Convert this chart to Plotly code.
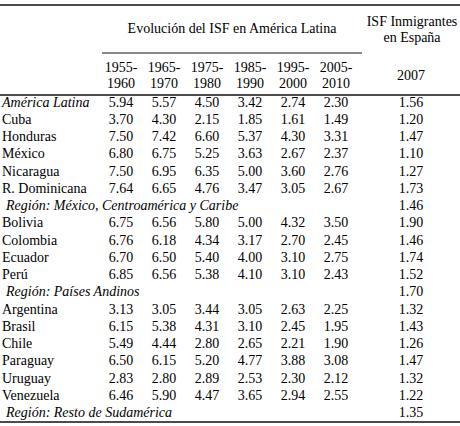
import plotly.graph_objects as go

# ---- data ----
row_labels = ["América Latina", "Cuba", "Honduras", "México", "Nicaragua", "R. Dominicana",
              "Región: México, Centroamérica y Caribe",
              "Bolivia", "Colombia", "Ecuador", "Perú",
              "Región: Países Andinos",
              "Argentina", "Brasil", "Chile", "Paraguay", "Uruguay", "Venezuela",
              "Región: Resto de Sudamérica"]
italic_rows = ["América Latina", "Región: México, Centroamérica y Caribe",
               "Región: Países Andinos", "Región: Resto de Sudamérica"]
period_start = ["1955-", "1965-", "1975-", "1985-", "1995-", "2005-"]
period_end = ["1960", "1970", "1980", "1990", "2000", "2010"]
spain_label = "2007"
group_title = "Evolución del ISF en América Latina"
spain_title = ["ISF Inmigrantes", "en España"]

isf_1955 = [5.94, 3.70, 7.50, 6.80, 7.50, 7.64, None, 6.75, 6.76, 6.70, 6.85, None, 3.13, 6.15, 5.49, 6.50, 2.83, 6.46, None]
isf_1965 = [5.57, 4.30, 7.42, 6.75, 6.95, 6.65, None, 6.56, 6.18, 6.50, 6.56, None, 3.05, 5.38, 4.44, 6.15, 2.80, 5.90, None]
isf_1975 = [4.50, 2.15, 6.60, 5.25, 6.35, 4.76, None, 5.80, 4.34, 5.40, 5.38, None, 3.44, 4.31, 2.80, 5.20, 2.89, 4.47, None]
isf_1985 = [3.42, 1.85, 5.37, 3.63, 5.00, 3.47, None, 5.00, 3.17, 4.00, 4.10, None, 3.05, 3.10, 2.65, 4.77, 2.53, 3.65, None]
isf_1995 = [2.74, 1.61, 4.30, 2.67, 3.60, 3.05, None, 4.32, 2.70, 3.10, 3.10, None, 2.63, 2.45, 2.21, 3.88, 2.30, 2.94, None]
isf_2005 = [2.30, 1.49, 3.31, 2.37, 2.76, 2.67, None, 3.50, 2.45, 2.75, 2.43, None, 2.25, 1.95, 1.90, 3.08, 2.12, 2.55, None]
isf_spain_2007 = [1.56, 1.20, 1.47, 1.10, 1.27, 1.73, 1.46, 1.90, 1.46, 1.74, 1.52, 1.70,
                  1.32, 1.43, 1.26, 1.47, 1.32, 1.22, 1.35]

latam_series = [isf_1955, isf_1965, isf_1975, isf_1985, isf_1995, isf_2005]

# ---- layout constants (pixel space) ----
W, H = 460, 426
FONT = "Liberation Serif"
FS = 14
COL = "#000000"
col_x = [121, 164, 207, 250, 293, 336]
spain_x = 411
row_y0, row_pitch = 103, 17.25
row_y = [row_y0 + i * row_pitch for i in range(len(row_labels))]

fig = go.Figure()

def text_trace(xs, ys, texts, pos="middle center"):
    fig.add_trace(go.Scatter(x=xs, y=ys, text=texts, mode="text", textposition=pos,
                             textfont=dict(family=FONT, size=FS, color=COL),
                             hoverinfo="skip", showlegend=False, cliponaxis=False))

# row labels
lab_x = [6 if l.startswith("Región") else 2 for l in row_labels]
lab_t = [f"<i>{l}</i>" if l in italic_rows else l for l in row_labels]
text_trace(lab_x, row_y, lab_t, "middle right")

# latin american series
for cx, series in zip(col_x, latam_series):
    ys = [y for y, v in zip(row_y, series) if v is not None]
    ts = [f"{v:.2f}" for v in series if v is not None]
    text_trace([cx] * len(ys), ys, ts)

# spain column
text_trace([spain_x] * len(row_y), row_y, [f"{v:.2f}" for v in isf_spain_2007])

# headers
text_trace([(102 + 362) / 2], [29], [group_title])
text_trace([412, 412], [22, 38.5], spain_title)
text_trace(col_x, [68] * len(col_x), period_start)
text_trace(col_x, [84] * len(col_x), period_end)
text_trace([spain_x], [76], [spain_label])

# rules
def hline(x0, x1, y, w):
    fig.add_shape(type="line", x0=x0, x1=x1, y0=y, y1=y, xref="x", yref="y",
                  line=dict(color="#111111", width=w))

hline(0, W, 5, 1.5)
hline(102, 362, 53, 1)
hline(0, W, 95, 1.5)
hline(0, W, 422, 1.5)

fig.update_xaxes(range=[0, W], visible=False, fixedrange=True)
fig.update_yaxes(range=[H, 0], visible=False, fixedrange=True)
fig.update_layout(width=W, height=H, margin=dict(l=0, r=0, t=0, b=0),
                  paper_bgcolor="white", plot_bgcolor="white")

fig.write_html("out.html", config={"displayModeBar": False},
               post_script="document.body.style.margin='0';document.body.style.overflow='hidden';")
